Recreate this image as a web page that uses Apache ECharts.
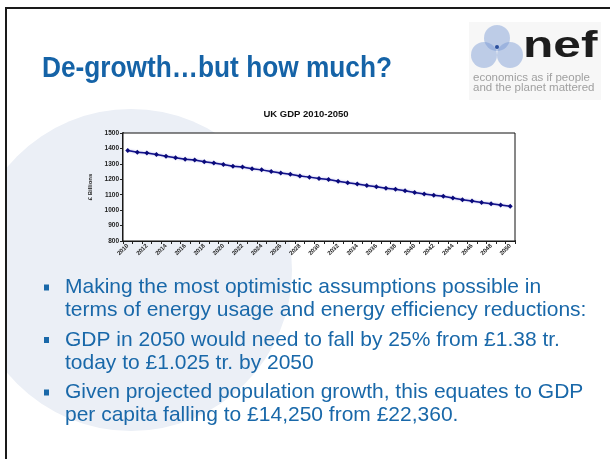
<!DOCTYPE html>
<html><head><meta charset="utf-8">
<script src="https://cdn.jsdelivr.net/npm/echarts@6/dist/echarts.min.js"></script>
<style>html,body{margin:0;padding:0;background:#fff}#c{width:610px;height:459px}</style>
</head><body><div id="c"></div>
<script>
const years = ['2010','2011','2012','2013','2014','2015','2016','2017','2018','2019',
  '2020','2021','2022','2023','2024','2025','2026','2027','2028','2029',
  '2030','2031','2032','2033','2034','2035','2036','2037','2038','2039',
  '2040','2041','2042','2043','2044','2045','2046','2047','2048','2049','2050'];
const gdp = [1386,1375,1371,1360,1349,1340,1330,1325,1314,1305,
  1296,1284,1280,1269,1261,1250,1240,1233,1222,1214,
  1205,1198,1187,1177,1170,1159,1151,1142,1135,1125,
  1114,1105,1096,1090,1079,1068,1059,1049,1042,1033,1026];
const yMin = 800, yMax = 1500, yStep = 100;
const chartTitle = 'UK GDP 2010-2050';
const yName = '£ Billions';
const slideTitle = 'De-growth…but how much?';
const bulletLines = [
  ['Making the most optimistic assumptions possible in', 'terms of energy usage and energy efficiency reductions:'],
  ['GDP in 2050 would need to fall by 25% from £1.38 tr.', 'today to £1.025 tr. by 2050'],
  ['Given projected population growth, this equates to GDP', 'per capita falling to £14,250 from £22,360.']
];

const FONT = '"Liberation Sans", Arial, Helvetica, sans-serif';
const blue = '#1968a9';
const graphics = [];
// background circle
graphics.push({type:'circle', z:-10, shape:{cx:131, cy:270, r:161}, style:{fill:'#ebeff6'}});
graphics.push({type:'rect', z:-9, shape:{x:0, y:0, width:5, height:459}, style:{fill:'#fff'}});
// slide border
graphics.push({type:'rect', z:-8, shape:{x:6, y:8, width:620, height:470}, style:{fill:'none', stroke:'#1a1a1a', lineWidth:2}});
// title
graphics.push({type:'text', z:5, x:42, y:69, scaleX:0.875, style:{text:slideTitle, x:0, y:0, font:'bold 30px ' + FONT, fill:'#1563a7', textAlign:'left', textVerticalAlign:'middle'}});
// logo
graphics.push({type:'rect', z:1, shape:{x:469, y:22, width:132, height:78}, style:{fill:'#f7f7f7'}});
[[497,38],[484,55],[510,55]].forEach(p => graphics.push({type:'circle', z:2, shape:{cx:p[0], cy:p[1], r:13}, style:{fill:'rgba(110,145,210,0.42)'}}));
graphics.push({type:'circle', z:3, shape:{cx:497, cy:47, r:2}, style:{fill:'#2a4f9c'}});
graphics.push({type:'text', z:3, x:523, y:47, scaleX:1.38, style:{text:'nef', x:0, y:0, font:'bold 36px ' + FONT, fill:'#1d1d1d', textAlign:'left', textVerticalAlign:'middle'}});
graphics.push({type:'text', z:3, x:473, y:78, style:{text:'economics as if people', x:0, y:0, font:'11.5px ' + FONT, fill:'#a0a0a0', textAlign:'left', textVerticalAlign:'middle'}});
graphics.push({type:'text', z:3, x:473, y:88, style:{text:'and the planet mattered', x:0, y:0, font:'11.5px ' + FONT, fill:'#a0a0a0', textAlign:'left', textVerticalAlign:'middle'}});
// chart title
graphics.push({type:'text', z:5, x:306, y:114, style:{text:chartTitle, x:0, y:0, font:'bold 9.5px ' + FONT, fill:'#111', textAlign:'center', textVerticalAlign:'middle'}});
// bullets
const lineY = [[287.5, 310],[340, 363.5],[392.5, 415.5]];
bulletLines.forEach((b, i) => {
  graphics.push({type:'rect', z:5, shape:{x:44, y:lineY[i][0]-3, width:5, height:6}, style:{fill:blue}});
  b.forEach((t, j) => graphics.push({type:'text', z:5, x:65, y:lineY[i][j], style:{text:t, x:0, y:0, font:'21px ' + FONT, fill:blue, textAlign:'left', textVerticalAlign:'middle'}}));
});

const chart = echarts.init(document.getElementById('c'), null, {renderer:'canvas'});
chart.setOption({
  animation:false,
  backgroundColor:'#fff',
  grid:{left:123, right:95, top:133, bottom:218, show:true, backgroundColor:'#fff', borderColor:'#111', borderWidth:1, z:1},
  xAxis:{type:'category', data:years, boundaryGap:true,
    axisLine:{lineStyle:{color:'#222', width:2}},
    axisTick:{show:true, interval:0, length:3, lineStyle:{color:'#222', width:1}},
    axisLabel:{interval:1, rotate:45, fontSize:6, fontWeight:'bold', color:'#222', margin:4, fontFamily:FONT},
    splitLine:{show:false}},
  yAxis:{type:'value', min:yMin, max:yMax, interval:yStep,
    name:yName, nameLocation:'middle', nameGap:23, nameRotate:90,
    nameTextStyle:{fontSize:6, fontWeight:'bold', color:'#222', fontFamily:FONT},
    axisLine:{show:true, lineStyle:{color:'#222', width:2}},
    axisTick:{show:true, length:3, lineStyle:{color:'#222', width:1}},
    axisLabel:{fontSize:6.5, fontWeight:'bold', color:'#222', margin:4, fontFamily:FONT, formatter:v => String(v)},
    splitLine:{show:false}},
  series:[{type:'line', data:gdp, symbol:'diamond', symbolSize:5,
    itemStyle:{color:'#0a0a7a'},
    lineStyle:{color:'#12128a', width:1.5, shadowBlur:2, shadowColor:'rgba(90,90,210,0.6)'}}],
  graphic:graphics
});
</script></body></html>
